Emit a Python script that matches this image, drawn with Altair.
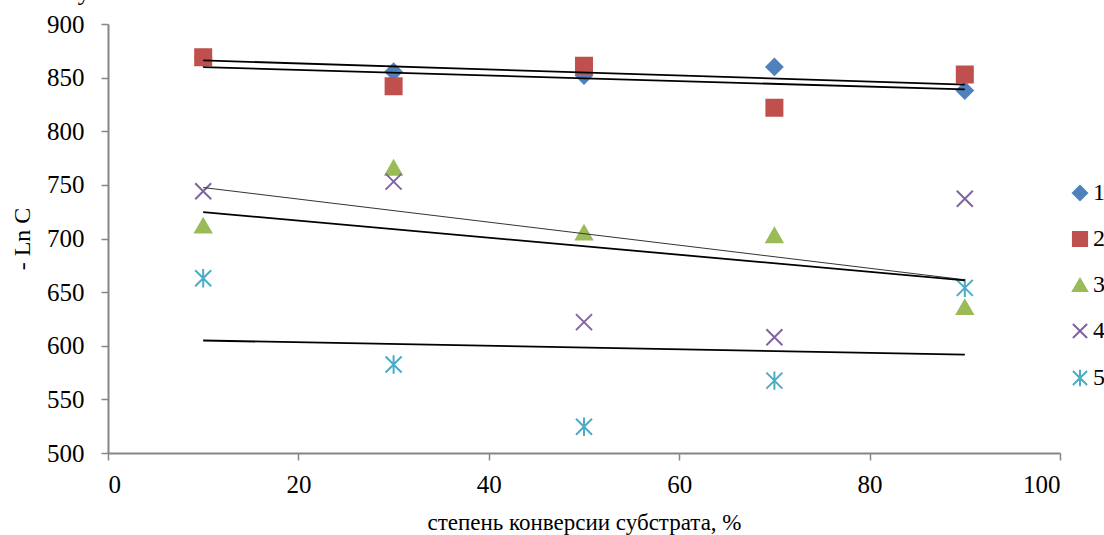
import altair as alt
import pandas as pd

# conversion degree, %
conversion = [10, 30, 50, 70, 90]

# -Ln C for each series
series_1 = [868.5, 855.5, 852.0, 860.0, 838.0]
series_2 = [869.0, 842.0, 861.0, 822.0, 853.0]
series_3 = [712.0, 766.0, 705.5, 703.0, 636.0]
series_4 = [744.0, 753.0, 622.0, 608.0, 737.0]
series_5 = [663.0, 582.5, 524.5, 567.5, 654.0]

series_names = ["1", "2", "3", "4", "5"]
series_colors = ["#4F81BD", "#C0504D", "#9BBB59", "#8064A2", "#4BACC6"]
series_fills = ["#4F81BD", "#C0504D", "#9BBB59", "transparent", "transparent"]
series_shapes = [
    "diamond",
    "square",
    "triangle-up",
    "M-1,-1L1,1M-1,1L1,-1",
    "M-1,-1L1,1M-1,1L1,-1M0,-1.15L0,1.15",
]

# heading text above the frame (only its lower edge shows)
heading = ["у"]

rows = []
for name, values in zip(series_names, [series_1, series_2, series_3, series_4, series_5]):
    for xv, yv in zip(conversion, values):
        rows.append({"series": name, "x": xv, "y": yv})
df = pd.DataFrame(rows)

FONT = "Liberation Serif, Times New Roman, serif"

x_scale = alt.Scale(domain=[0, 100], nice=False)
y_scale = alt.Scale(domain=[500, 900], nice=False, zero=False)

axis_style = dict(
    grid=False,
    labelFont=FONT,
    titleFont=FONT,
    labelFontSize=25,
    labelColor="#000000",
    titleColor="#000000",
    titleFontWeight="normal",
    domainColor="#868686",
    domainWidth=2,
    tickColor="#868686",
    tickWidth=1.5,
    tickSize=7,
)

x_enc = alt.X(
    "x:Q",
    scale=x_scale,
    title="степень конверсии субстрата, %",
    axis=alt.Axis(
        values=[0, 20, 40, 60, 80, 100],
        labelPadding=12,
        titlePadding=14,
        titleFontSize=23,
        **axis_style,
    ),
)
y_enc = alt.Y(
    "y:Q",
    scale=y_scale,
    title="- Ln C",
    axis=alt.Axis(
        values=[500, 550, 600, 650, 700, 750, 800, 850, 900],
        labelPadding=17,
        titlePadding=12,
        titleFontSize=24,
        **axis_style,
    ),
)

legend = alt.Legend(
    title=None,
    orient="none",
    legendX=960,
    legendY=157,
    symbolSize=200,
    symbolStrokeWidth=2,
    labelFont=FONT,
    labelFontSize=24,
    labelColor="#000000",
    rowPadding=22,
    labelOffset=1,
)

points = alt.Chart(df).mark_point(size=256, strokeWidth=2, opacity=1).encode(
    x=x_enc,
    y=y_enc,
    shape=alt.Shape("series:N", scale=alt.Scale(domain=series_names, range=series_shapes), legend=legend),
    stroke=alt.Stroke("series:N", scale=alt.Scale(domain=series_names, range=series_colors), legend=legend),
    fill=alt.Fill("series:N", scale=alt.Scale(domain=series_names, range=series_fills), legend=legend),
)

# linear trend lines, one per series
trends = (
    alt.Chart(df)
    .transform_regression("x", "y", groupby=["series"], method="linear")
    .mark_line(color="#000000")
    .encode(
        x=alt.X("x:Q", scale=x_scale),
        y=alt.Y("y:Q", scale=y_scale),
        detail="series:N",
        strokeWidth=alt.condition(alt.datum.series == "3", alt.value(1.0), alt.value(1.8)),
        color=alt.condition(alt.datum.series == "3", alt.value("#333333"), alt.value("#000000")),
    )
)

top_text = (
    alt.Chart(pd.DataFrame({"t": heading}))
    .mark_text(font=FONT, fontSize=25, color="#000000", align="center", baseline="alphabetic")
    .encode(text="t:N", x=alt.value(-24), y=alt.value(-24))
)

chart = (
    alt.layer(points, trends, top_text)
    .properties(
        width=952,
        height=429,
        autosize=alt.AutoSizeParams(type="none"),
        padding={"left": 108, "top": 24, "right": 44, "bottom": 82},
        background="#ffffff",
    )
    .configure_view(stroke=None)
)

chart.save("out.html", embed_options={"renderer": "svg", "actions": False})
